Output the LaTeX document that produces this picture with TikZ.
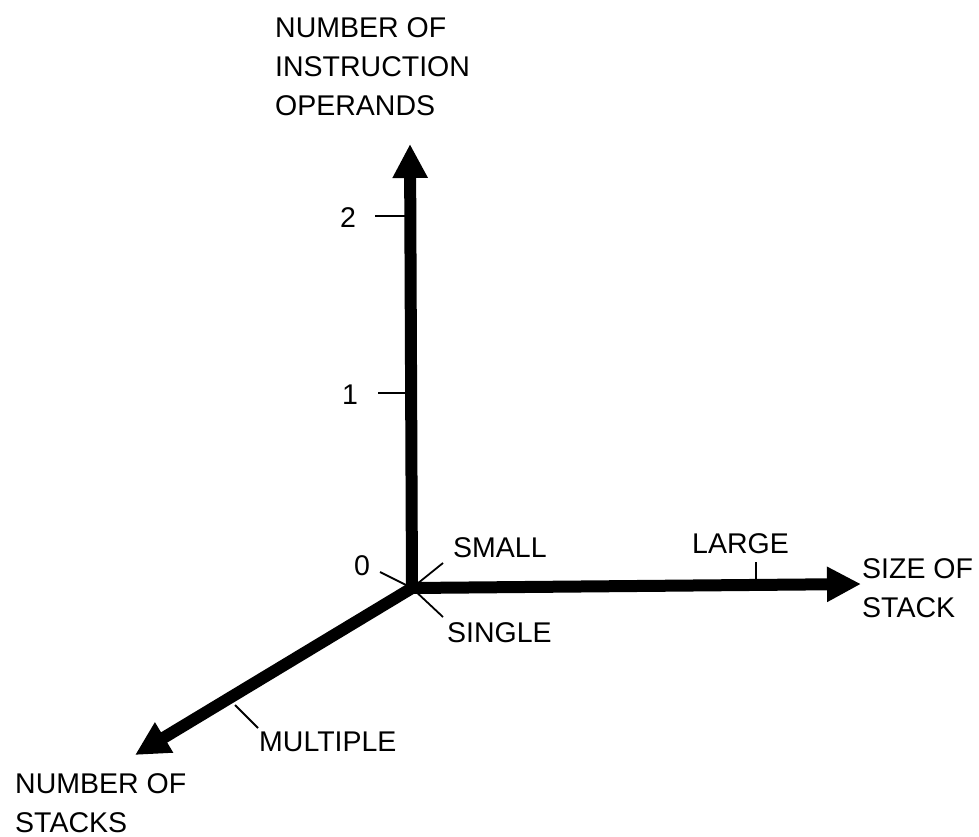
\documentclass[tikz,border=0pt]{standalone}
\usepackage{fontspec}
\setmainfont{Liberation Sans}
\usetikzlibrary{arrows.meta}
\begin{document}
\begin{tikzpicture}[x=1pt,y=-1pt,
  axis/.style={line width=12pt,-{Triangle[length=34pt,width=33pt]}},
  tickline/.style={line width=1.8pt},
  lbl/.style={font=\fontsize{28.5}{39}\selectfont,inner sep=0pt,align=left,anchor=north west},
  num/.style={font=\fontsize{28.5}{39}\selectfont,inner sep=0pt}]
\useasboundingbox (0,0) rectangle (979,837);
% axes
\coordinate (O) at (412,588);
\coordinate (ytip) at (410,144);
\coordinate (xtip) at (861,584);
\coordinate (ztip) at (135,755);
\draw[axis] (O) -- (ytip);
\draw[axis] (O) -- (xtip);
\draw[axis] (O) -- (ztip);
% ticks
\coordinate (t2) at (375,216);  \coordinate (t2e) at (408,216);
\coordinate (t1) at (378,393);  \coordinate (t1e) at (408,393);
\coordinate (t0) at (380,572);
\coordinate (ts) at (443,563);
\coordinate (tg) at (443,617);
\coordinate (tl) at (756,562);  \coordinate (tle) at (756,584);
\coordinate (tm) at (235,705);  \coordinate (tme) at (258,728);
\draw[tickline] (t2) -- (t2e);
\draw[tickline] (t1) -- (t1e);
\draw[tickline] (t0) -- (O);
\draw[tickline] (ts) -- (O);
\draw[tickline] (O) -- (tg);
\draw[tickline] (tl) -- (tle);
\draw[tickline] (tm) -- (tme);
% labels
\node[lbl] (ytitle) at (275,17) {NUMBER OF\\INSTRUCTION\\OPERANDS};
\node[lbl] (xtitle) at (862,558) {SIZE OF\\STACK};
\node[lbl] (ztitle) at (15,773) {NUMBER OF\\STACKS};
\node[num] (n2) at (348,218) {2};
\node[num] (n1) at (350,395) {1};
\node[num] (n0) at (362,566) {0};
\node[lbl] (small) at (453,537) {SMALL};
\node[lbl] (large) at (692,533) {LARGE};
\node[lbl] (single) at (447,622) {SINGLE};
\node[lbl] (multiple) at (259,732) {MULTIPLE};
\end{tikzpicture}
\end{document}
